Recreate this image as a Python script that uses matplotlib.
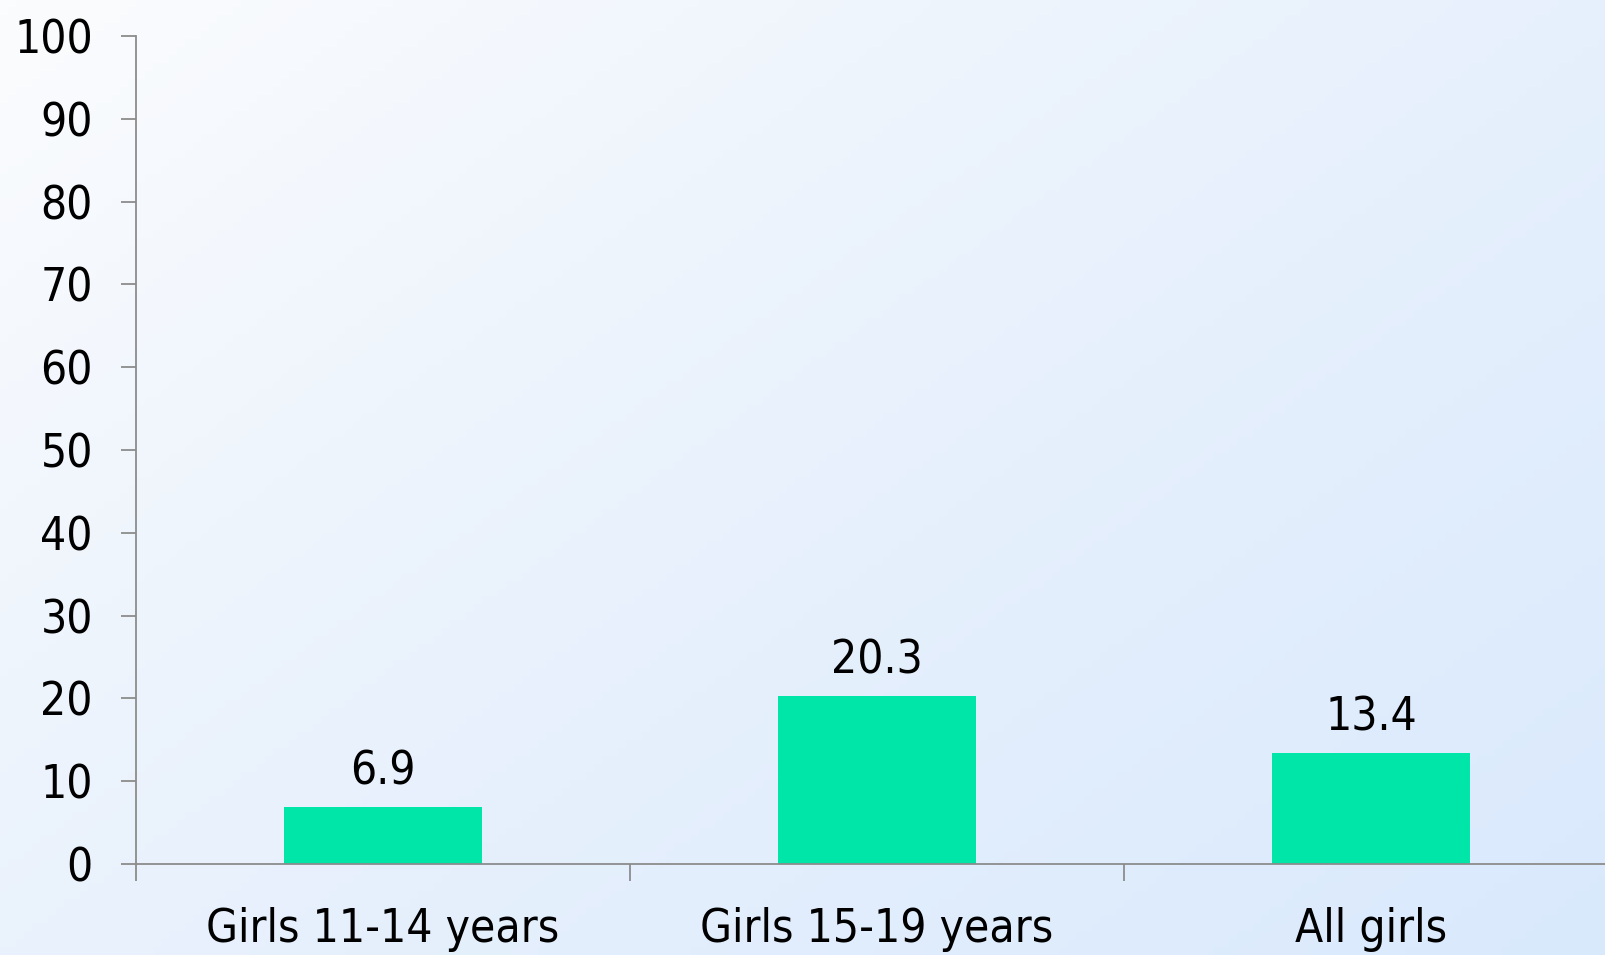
import numpy as np
import matplotlib
matplotlib.use("Agg")
import matplotlib.pyplot as plt
from matplotlib.colors import LinearSegmentedColormap

categories = ["Girls 11-14 years", "Girls 15-19 years", "All girls"]
values = [6.9, 20.3, 13.4]
value_labels = ["6.9", "20.3", "13.4"]
yticks = [0, 10, 20, 30, 40, 50, 60, 70, 80, 90, 100]

plt.rcParams['font.family'] = ['DejaVu Sans']
plt.rcParams['font.stretch'] = 'condensed'
FS = 33

fig = plt.figure(figsize=(16.06, 9.55), dpi=100)

# background gradient
bg = fig.add_axes([0, 0, 1, 1], zorder=0)
nx, ny = 200, 120
xx, yy = np.meshgrid(np.linspace(0, 1, nx), np.linspace(0, 1, ny))
t = np.clip(0.55 * xx + 0.45 * yy, 0, 1)
cmap = LinearSegmentedColormap.from_list("bg", ["#fbfcfe", "#e8f1fc", "#d9e9fc"])
bg.imshow(t, cmap=cmap, aspect='auto', extent=[0, 1, 0, 1], origin='upper', vmin=0, vmax=1)
bg.axis('off')

ax = fig.add_axes([136/1606, 1 - 864/955, 3*494/1606, (864-36)/955], zorder=1)
ax.patch.set_alpha(0)
x = np.arange(len(categories))
bars = ax.bar(x, values, width=0.4, color="#00e5a8", zorder=2)
for xi, v, lab in zip(x, values, value_labels):
    ax.annotate(lab, (xi, v), xytext=(0, 9), textcoords='offset points',
                ha='center', va='bottom', fontsize=FS, fontstretch='condensed')

ax.set_xlim(-0.5, 2.5)
ax.set_ylim(0, 100)
ax.set_yticks(yticks)
ax.set_yticklabels([str(v) for v in yticks], fontsize=FS)
ax.set_xticks([-0.5, 0.5, 1.5, 2.5])
ax.set_xticklabels([])
ax.set_xticks(x, minor=True)
ax.set_xticklabels(categories, minor=True, fontsize=FS)
ax.tick_params(axis='x', which='minor', length=0, pad=31)
ax.tick_params(axis='x', which='major', length=12, width=1.3, color='#8c8c8c', direction='out')
ax.tick_params(axis='y', length=11, width=1.3, color='#8c8c8c', pad=20, direction='out')
for s in ['top', 'right']:
    ax.spines[s].set_visible(False)
for s in ['left', 'bottom']:
    ax.spines[s].set_color('#8c8c8c')
    ax.spines[s].set_linewidth(1.3)
ax.spines['left'].set_bounds(0, 100)

fig.savefig("out.png", dpi=100)
